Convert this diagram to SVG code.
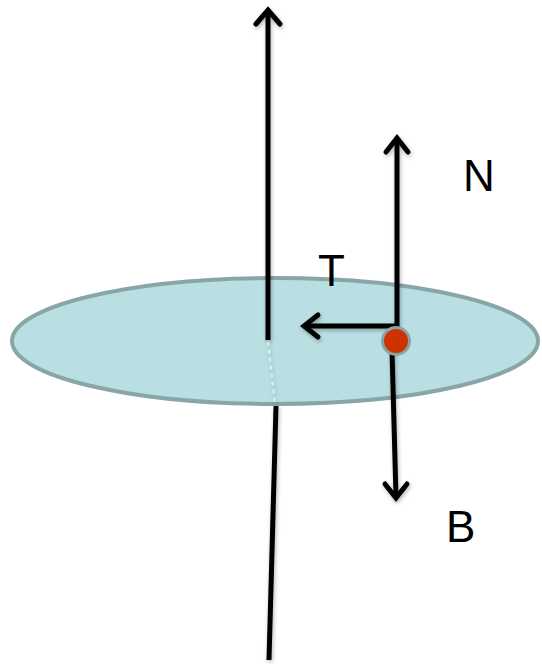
<svg xmlns="http://www.w3.org/2000/svg" width="542" height="664" viewBox="0 0 542 664">
<style>
.ax{stroke:#000;stroke-width:5;fill:none;stroke-linecap:butt}
.hd{stroke:#000;stroke-width:5;fill:none;stroke-linecap:round;stroke-linejoin:miter}
.lbl{font-family:"Liberation Sans",Arial,sans-serif;font-size:44px;fill:#000}
</style>
<defs>
<filter id="sh" x="-20%" y="-20%" width="140%" height="140%">
<feGaussianBlur in="SourceAlpha" stdDeviation="2"/>
<feOffset dx="1" dy="2"/>
<feComponentTransfer><feFuncA type="linear" slope="0.3"/></feComponentTransfer>
<feMerge><feMergeNode/><feMergeNode in="SourceGraphic"/></feMerge>
</filter>
</defs>
<g id="disk">
<ellipse cx="275" cy="341" rx="263" ry="63" fill="#badfe3" stroke="#88a6a8" stroke-width="4"/>
</g>
<g id="connectors" filter="url(#sh)">
<line class="ax" x1="268" y1="340" x2="268" y2="10"/>
<polyline class="hd" points="256,24 268,10 280,24"/>
<line x1="268" y1="342" x2="275" y2="404" stroke="#d8eef0" stroke-width="2" stroke-dasharray="4,4"/>
<line class="ax" x1="276" y1="406" x2="269" y2="660"/>
<line class="ax" x1="397" y1="328" x2="397" y2="138"/>
<polyline class="hd" points="386,152 397,138 408,152"/>
<line class="ax" x1="399" y1="326" x2="304" y2="326"/>
<polyline class="hd" points="318,315 304,326 318,337"/>
<line class="ax" x1="392" y1="350" x2="396" y2="497"/>
<polyline class="hd" points="385,484 396,498 407,484"/>
</g>
<g id="point">
<circle cx="396" cy="341" r="15" fill="#8aa4a6"/>
<circle cx="396" cy="341" r="12" fill="#cc3300"/>
</g>
<g id="labelN"><text class="lbl" x="463" y="191">N</text></g>
<g id="labelT"><text class="lbl" x="318" y="286">T</text></g>
<g id="labelB"><text class="lbl" x="446" y="542">B</text></g>
</svg>
